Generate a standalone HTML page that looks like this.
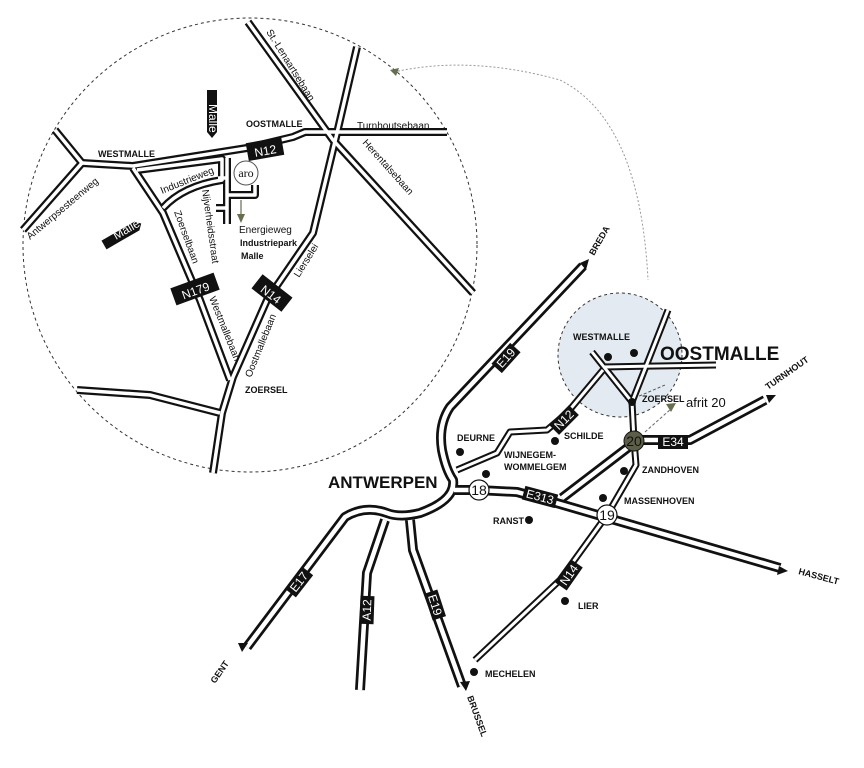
<!DOCTYPE html>
<html><head><meta charset="utf-8"><style>
html,body{margin:0;padding:0;background:#fff;}
svg{display:block;font-family:"Liberation Sans Narrow","Liberation Sans",sans-serif;}
.b{fill:none;stroke:#111;stroke-linejoin:round;}
.w{fill:none;stroke:#fff;stroke-linejoin:round;}
text{fill:#111;}
.lb{font-weight:bold;font-size:9px;}
.sm{font-size:10px;}
.sh{fill:#fff;font-size:12px;}
</style></head><body>
<svg width="864" height="768" viewBox="0 0 864 768" xmlns="http://www.w3.org/2000/svg">
<defs>
<g id="inner">
<path d="M248,22 L333,140 L473,293"/>
<path d="M357,47 L337,133 L313,233 L267,300 L233,377 L222,413 L213,473"/>
<path d="M55,130 L82,163 L23,230"/>
<path d="M82,163 L133,166 L247,148 L293,137 L305,132 L447,132"/>
<path d="M133,168 L163,213 L200,300 L230,380"/>
<path d="M137,170 L222,159 L222,180 Q183,186 163,208"/>
<path d="M227,158 L227,224"/>
<path d="M218,178 L227,178"/>
<path d="M227,195 L255,195 L255,185"/>
<path d="M216,208 L227,208"/>
<path d="M77,390 L150,395 L220,413"/>
</g>
<g id="thin">
<path d="M592,352 L632,402 L663,323"/>
<path d="M663,323 L668,310"/>
<path d="M603,367 L716,365"/>
<path d="M603,370 L567,413 L547,430 L510,432 L497,453 L457,470"/>
<path d="M632,402 L634,440 L636,465 L607,515 L560,580 L475,660"/>
</g>
<g id="major">
<path d="M583,266 L450,407 Q438,425 442,450 Q446,470 453,480 Q456,500 420,513 Q400,518 387,513 Q365,505 345,517 L247,647"/>
<path d="M385,520 L367,573 L360,690"/>
<path d="M410,520 L413,550 L462,686"/>
<path d="M454,490 L478,490 L517,492 L553,502 L780,568"/>
<path d="M562,498 L630,446"/>
<path d="M634,440 L690,440 L765,400"/>
</g>
</defs>
<circle cx="250" cy="245" r="227" fill="none" stroke="#333" stroke-width="1" stroke-dasharray="3,3"/>
<circle cx="620" cy="355" r="62" fill="#e4eaf2" stroke="#333" stroke-width="1" stroke-dasharray="3,3"/>
<path d="M394,72 Q470,55 560,80 Q640,120 648,280" fill="none" stroke="#999" stroke-width="1" stroke-dasharray="2,2"/>
<polygon points="390,70 399,68 396,76" fill="#666e50"/>
<path d="M645,432 L672,408" stroke="#666" stroke-width="1" stroke-dasharray="3,2" fill="none"/>
<path d="M630,400 L665,385" stroke="#555" stroke-width="1" stroke-dasharray="3,2" fill="none"/>
<polygon points="676,403 666,404 671,412" fill="#666e50"/>

<use href="#inner" class="b" stroke-width="8"/>
<use href="#inner" class="w" stroke-width="3.5"/>
<use href="#thin" class="b" stroke-width="7"/>
<use href="#thin" class="w" stroke-width="3"/>
<use href="#major" class="b" stroke-width="10"/>
<use href="#major" class="w" stroke-width="4.5"/>

<polygon points="589,259 580,263 586,270" fill="#111"/>
<polygon points="242,652 248,643 238,643" fill="#111"/>
<polygon points="466,691 460,682 470,681" fill="#111"/>
<polygon points="776,395 766,395 769,403" fill="#111"/>
<polygon points="788,571 779,566 777,575" fill="#111"/>

<text x="98" y="157" class="lb" font-size="13">WESTMALLE</text>
<text x="246" y="127" class="lb" font-size="13">OOSTMALLE</text>
<text x="357" y="129" class="sm" font-size="11">Turnhoutsebaan</text>
<text x="245" y="393" class="lb" font-size="13">ZOERSEL</text>
<text x="239" y="233" class="sm" font-size="11">Energieweg</text>
<text x="240" y="246" class="lb" font-size="11">Industriepark</text>
<text x="241" y="259" class="lb" font-size="11">Malle</text>
<text transform="translate(162,194) rotate(-22)" class="sm">Industrieweg</text>
<text transform="translate(202,190) rotate(82)" class="sm">Nijverheidsstraat</text>
<text transform="translate(174,212) rotate(70)" class="sm">Zoerselbaan</text>
<text transform="translate(209,298) rotate(68)" class="sm">Westmallebaan</text>
<text transform="translate(251,378) rotate(-68)" class="sm">Oostmallebaan</text>
<text transform="translate(299,278) rotate(-58)" class="sm">Lierselei</text>
<text transform="translate(362,143) rotate(48)" class="sm">Herentalsebaan</text>
<text transform="translate(266,32) rotate(58)" class="sm">St.-Lenaartsebaan</text>
<text transform="translate(30,240) rotate(-40)" class="sm">Antwerpsesteenweg</text>
<circle cx="246" cy="173" r="12" fill="#fff" stroke="#555" stroke-width="1"/>
<text x="246" y="177" font-family="Liberation Serif,serif" font-size="12" text-anchor="middle" fill="#444">aro</text>
<path d="M241,200 L241,215" stroke="#666e50" stroke-width="1.2"/>
<polygon points="237,214 245,214 241,223" fill="#666e50"/>
<polygon points="207,90 217,90 217,132 212,138 207,132" fill="#111"/>
<text transform="translate(209,104) rotate(90)" class="sh" font-size="11">Malle</text>
<polygon transform="translate(104,245) rotate(-30)" points="0,-5 38,-5 43,0 38,5 0,5" fill="#111"/>
<text transform="translate(116,240) rotate(-30)" class="sh" font-size="11">Malle</text>

<g transform="translate(265,149) rotate(-10)"><rect x="-18" y="-9" width="36" height="18" fill="#111"/><text x="0" y="6" text-anchor="middle" class="sh" font-size="16">N12</text></g>
<g transform="translate(195,289) rotate(-20)"><rect x="-23" y="-9" width="46" height="18" fill="#111"/><text x="0" y="6" text-anchor="middle" class="sh" font-size="16">N179</text></g>
<g transform="translate(272,293) rotate(38)"><rect x="-19" y="-9" width="38" height="18" fill="#111"/><text x="0" y="6" text-anchor="middle" class="sh" font-size="16">N14</text></g>

<g transform="translate(506,358) rotate(-48)"><rect x="-14" y="-7" width="28" height="14" fill="#111"/><text x="0" y="4" text-anchor="middle" class="sh" font-size="12">E19</text></g>
<g transform="translate(564,420) rotate(-45)"><rect x="-14" y="-7" width="28" height="14" fill="#111"/><text x="0" y="4" text-anchor="middle" class="sh" font-size="12">N12</text></g>
<g transform="translate(540,497) rotate(15)"><rect x="-17" y="-7" width="34" height="14" fill="#111"/><text x="0" y="4" text-anchor="middle" class="sh" font-size="12">E313</text></g>
<g transform="translate(673,442)"><rect x="-15" y="-7" width="30" height="14" fill="#111"/><text x="0" y="4" text-anchor="middle" class="sh" font-size="12">E34</text></g>
<g transform="translate(299,582) rotate(-52)"><rect x="-14" y="-7" width="28" height="14" fill="#111"/><text x="0" y="4" text-anchor="middle" class="sh" font-size="12">E17</text></g>
<g transform="translate(367,610) rotate(-88)"><rect x="-14" y="-7" width="28" height="14" fill="#111"/><text x="0" y="4" text-anchor="middle" class="sh" font-size="12">A12</text></g>
<g transform="translate(435,605) rotate(72)"><rect x="-14" y="-7" width="28" height="14" fill="#111"/><text x="0" y="4" text-anchor="middle" class="sh" font-size="12">E19</text></g>
<g transform="translate(569,575) rotate(-55)"><rect x="-14" y="-7" width="28" height="14" fill="#111"/><text x="0" y="4" text-anchor="middle" class="sh" font-size="12">N14</text></g>

<circle cx="479" cy="490" r="10" fill="#fff" stroke="#111" stroke-width="1.2"/><text x="479" y="495" text-anchor="middle" font-size="14">18</text>
<circle cx="607" cy="515" r="10" fill="#fff" stroke="#111" stroke-width="1.2"/><text x="607" y="520" text-anchor="middle" font-size="14">19</text>
<circle cx="634" cy="441" r="10" fill="#5c5e48" stroke="#111" stroke-width="1"/><text x="634" y="446" text-anchor="middle" font-size="14" fill="#fff">20</text>

<g fill="#111">
<circle cx="608" cy="357" r="4"/><circle cx="634" cy="353" r="4"/><circle cx="632" cy="402" r="4"/>
<circle cx="460" cy="452" r="4"/><circle cx="555" cy="441" r="4"/><circle cx="486" cy="474" r="4"/>
<circle cx="624" cy="471" r="4"/><circle cx="603" cy="498" r="4"/><circle cx="529" cy="520" r="4"/>
<circle cx="565" cy="601" r="4"/><circle cx="474" cy="672" r="4"/>
</g>
<text x="573" y="340" class="lb">WESTMALLE</text>
<text x="660" y="360" font-weight="bold" font-size="19">OOSTMALLE</text>
<text x="642" y="402" class="lb">ZOERSEL</text>
<text x="686" y="407" font-size="13" fill="#6a6e5a" font-family="Liberation Sans,sans-serif">afrit 20</text>
<text x="457" y="441" class="lb">DEURNE</text>
<text x="564" y="439" class="lb">SCHILDE</text>
<text x="504" y="458" class="lb">WIJNEGEM-</text>
<text x="504" y="470" class="lb">WOMMELGEM</text>
<text x="642" y="473" class="lb">ZANDHOVEN</text>
<text x="624" y="504" class="lb">MASSENHOVEN</text>
<text x="493" y="524" class="lb">RANST</text>
<text x="578" y="609" class="lb">LIER</text>
<text x="485" y="677" class="lb">MECHELEN</text>
<text x="328" y="488" font-weight="bold" font-size="17">ANTWERPEN</text>
<text transform="translate(594,256) rotate(-60)" class="lb" font-size="12">BREDA</text>
<text transform="translate(768,390) rotate(-35)" class="lb" font-size="12">TURNHOUT</text>
<text transform="translate(798,574) rotate(15)" class="lb" font-size="12">HASSELT</text>
<text transform="translate(215,684) rotate(-55)" class="lb" font-size="12">GENT</text>
<text transform="translate(467,697) rotate(70)" class="lb" font-size="12">BRUSSEL</text>
</svg>
</body></html>
